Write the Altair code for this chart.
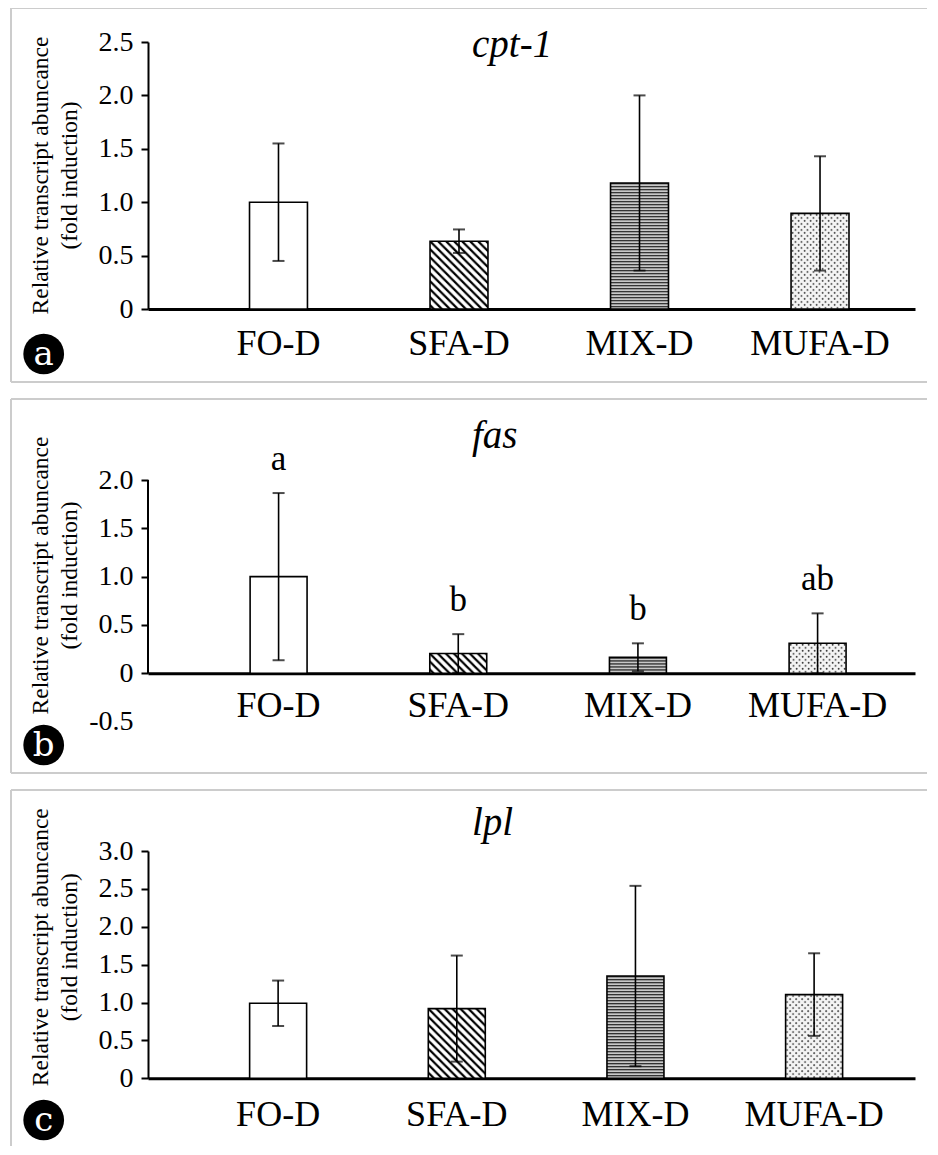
import base64
import altair as alt
import pandas as pd

# ---------------- data ----------------
categories = ["FO-D", "SFA-D", "MIX-D", "MUFA-D"]
genes = ["cpt-1", "fas", "lpl"]
panel_letters = ["a", "b", "c"]

cpt1_mean = [1.00, 0.635, 1.18, 0.895]
cpt1_sd = [0.55, 0.11, 0.82, 0.535]

fas_mean = [1.00, 0.205, 0.165, 0.31]
fas_sd = [0.865, 0.20, 0.145, 0.31]
fas_sig = ["a", "b", "b", "ab"]

lpl_mean = [0.99, 0.92, 1.35, 1.105]
lpl_sd = [0.30, 0.70, 1.19, 0.545]

cpt1_ticks = [0, 0.5, 1.0, 1.5, 2.0, 2.5]
fas_ticks = [-0.5, 0, 0.5, 1.0, 1.5, 2.0]
lpl_ticks = [0, 0.5, 1.0, 1.5, 2.0, 2.5, 3.0]

y_title = ["Relative transcript abuncance", "(fold induction)"]

# ---------------- fill patterns (svg images) ----------------
def pattern_uri(tile, w, h):
    svg = ('<svg xmlns="http://www.w3.org/2000/svg" width="100%" height="100%">'
           f'<defs><pattern id="p" x="0" y="0" width="{w}" height="{h}" patternUnits="userSpaceOnUse">{tile}</pattern></defs>'
           '<rect x="0" y="0" width="100%" height="100%" fill="url(#p)"/></svg>')
    return "data:image/svg+xml;base64," + base64.b64encode(svg.encode()).decode()

plain = pattern_uri('<rect width="8" height="8" fill="white"/>', 8, 8)
hatch = pattern_uri('<rect width="8" height="8" fill="white"/>'
                    '<path d="M-2,-2L10,10M-2,6L2,10M6,-2L10,2" stroke="black" stroke-width="2.2"/>', 8, 8)
stripes = pattern_uri('<rect width="6" height="3" fill="#c8c8c8"/>'
                      '<rect y="0" width="6" height="1.2" fill="#2a2a2a"/>', 6, 3)
dots = pattern_uri('<rect width="6" height="6" fill="#f4f4f4"/>'
                   '<circle cx="1.5" cy="1.5" r="0.9" fill="#222"/>'
                   '<circle cx="4.5" cy="4.5" r="0.9" fill="#222"/>', 6, 6)
fills = [plain, hatch, stripes, dots]

FONT = "Liberation Serif"
W = 926
BORDER = "#cccccc"


def make_df(means, sds, sig=None):
    return pd.DataFrame({
        "cat": categories,
        "mean": means,
        "lo": [m - s for m, s in zip(means, sds)],
        "hi": [m + s for m, s in zip(means, sds)],
        "url": fills,
        "sig": sig if sig else [""] * len(categories),
    })


def panel(gene, letter, df, ticks, ydom, yrange, band, title_y, ytitle_y,
          height, zero_y, label_pad, circle_y, split_axis=False, bottom_border=True):
    xscale = alt.Scale(range=[137, 904], paddingInner=band[0],
                       paddingOuter=band[1], align=band[2])
    xaxis = alt.Axis(title=None, labelFont=FONT, labelFontSize=36, labelColor="black",
                     labelAngle=0, ticks=False, domainColor="black", domainWidth=3,
                     labelPadding=label_pad, labelBaseline="alphabetic",
                     offset=zero_y - height, grid=False)
    x = alt.X("cat:N", sort=categories, scale=xscale, axis=xaxis)

    tick_color = ({"condition": {"test": "datum.value < 0", "value": "transparent"},
                   "value": "black"} if split_axis else "black")
    yaxis = alt.Axis(orient="left", offset=-137, values=ticks,
                     labelExpr="datum.value < 0 ? '-' + format(-datum.value, '.1f') : "
                               "(datum.value == 0 ? '0' : format(datum.value, '.1f'))",
                     labelFont=FONT, labelFontSize=28, labelColor="black", labelPadding=8,
                     tickSize=7, tickWidth=2, tickColor=tick_color,
                     domain=not split_axis, domainColor="black", domainWidth=2,
                     grid=False, title=y_title, titleFont=FONT, titleFontSize=23.5,
                     titleFontWeight="normal", titleColor="black", titleLineHeight=29,
                     titleAngle=270, titleAlign="center", titleBaseline="alphabetic",
                     titleX=-100.5, titleY=ytitle_y)
    y = alt.Y("mean:Q", scale=alt.Scale(domain=ydom, range=yrange, nice=False, zero=False),
              axis=yaxis)

    base = alt.Chart(df)
    white = base.mark_bar(fill="white", strokeWidth=0).encode(x=x, y=y, y2=alt.datum(0))
    img = base.mark_image(aspect=False).encode(x=x, y=y, y2=alt.datum(0), url="url:N")
    outline = base.mark_bar(fill="transparent", stroke="black", strokeWidth=1.6).encode(
        x=x, y=y, y2=alt.datum(0))
    err = base.mark_rule(color="black", strokeWidth=1.6).encode(
        x=x, y="lo:Q", y2="hi:Q")
    cap_hi = base.mark_tick(color="black", thickness=2, size=12).encode(x=x, y="hi:Q")
    cap_lo = base.mark_tick(color="black", thickness=2, size=12).encode(x=x, y="lo:Q")

    layers = [white, img, outline, err, cap_hi, cap_lo]

    if split_axis:
        layers.append(base.mark_rule(color="black", strokeWidth=2).encode(
            x=alt.value(137), y=alt.datum(0), y2=alt.datum(ticks[-1])))
        layers.append(base.mark_text(font=FONT, fontSize=35, color="black",
                                     baseline="alphabetic", dy=-23).encode(
            x=x, y="hi:Q", text="sig:N"))

    lab = alt.Chart(pd.DataFrame({"t": [gene], "l": [letter]}))
    # panel frame (light grey), open to the right (and bottom for the last panel)
    layers.append(lab.mark_rule(color=BORDER, strokeWidth=2).encode(
        x=alt.value(0), x2=alt.value(W), y=alt.value(0)))
    layers.append(lab.mark_rule(color=BORDER, strokeWidth=2).encode(
        x=alt.value(0), y=alt.value(0), y2=alt.value(height)))
    if bottom_border:
        layers.append(lab.mark_rule(color=BORDER, strokeWidth=2).encode(
            x=alt.value(0), x2=alt.value(W), y=alt.value(height)))

    layers.append(lab.mark_text(font=FONT, fontStyle="italic", fontSize=39, color="black",
                                align="left", baseline="alphabetic").encode(
        x=alt.value(461), y=alt.value(title_y), text="t:N"))
    layers.append(lab.mark_point(shape="circle", filled=True, color="black", opacity=1,
                                 size=1660).encode(x=alt.value(32.7), y=alt.value(circle_y)))
    layers.append(lab.mark_text(font="DejaVu Serif", fontSize=34, color="white",
                                align="center", baseline="middle").encode(
        x=alt.value(32.7), y=alt.value(circle_y + 1), text="l:N"))

    return alt.layer(*layers).properties(width=W, height=height)


pa = panel(genes[0], panel_letters[0], make_df(cpt1_mean, cpt1_sd), cpt1_ticks,
           [0, 2.5], [301, 34], (0.679, 0.464, 0.606), 49, 167, 374, 301, 45, 346)
pb = panel(genes[1], panel_letters[1], make_df(fas_mean, fas_sd, fas_sig), fas_ticks,
           [-0.5, 2.0], [322.6, 81], (0.683, 0.476, 0.597), 49.3, 176, 374, 274.3, 43.4, 346,
           split_axis=True)
pc = panel(genes[2], panel_letters[2], make_df(lpl_mean, lpl_sd), lpl_ticks,
           [0, 3.0], [288.3, 61], (0.681, 0.487, 0.584), 45, 156.7, 357, 288.3, 46.7, 330,
           bottom_border=False)

chart = alt.vconcat(pa, pb, pc, spacing=17, bounds="flush").properties(
    padding={"left": 2, "top": -1, "right": -11, "bottom": -2.5}
).configure(font=FONT).configure_view(strokeWidth=0, stroke=None)

chart.save("out.html", embed_options={"renderer": "svg", "actions": False})
